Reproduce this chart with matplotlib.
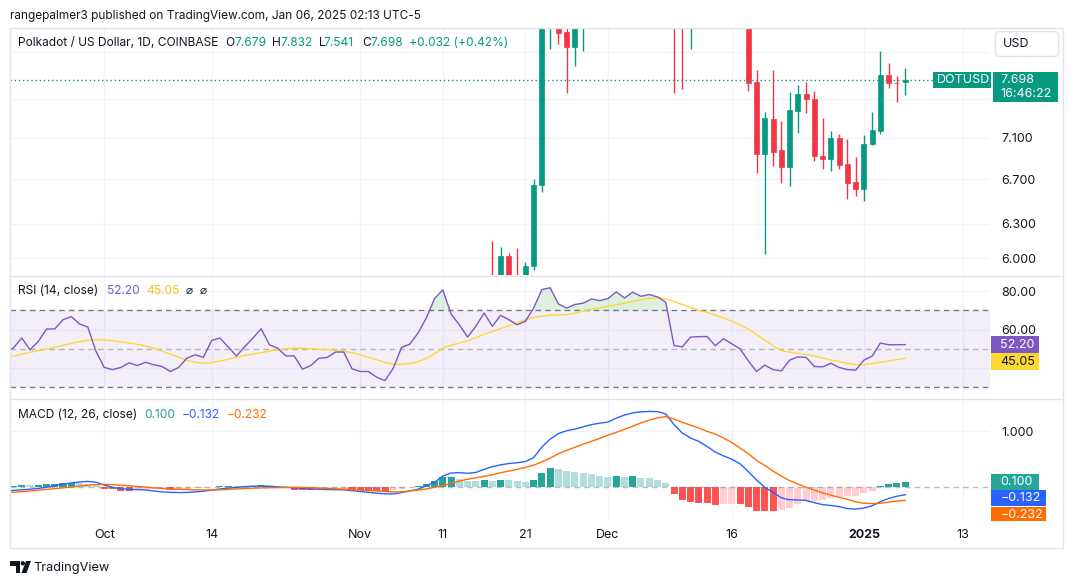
import numpy as np
import pandas as pd
import matplotlib
matplotlib.use("Agg")
import matplotlib.pyplot as plt
from matplotlib.patches import Rectangle, FancyBboxPatch, Polygon, Circle
from matplotlib.ticker import NullLocator

plt.rcParams['font.family'] = ['Inter', 'DejaVu Sans']

W, H = 1073, 584
UP, DOWN = '#089981', '#F23645'
TEXT, GRID, BORDER = '#131722', '#f0f3fa', '#e0e3eb'

# ---- data ----
dates = pd.date_range('2024-09-19', '2025-01-06', freq='D')

rsi = [48.0, 50.5, 55.6, 49.5, 53.8, 60.3, 60.3, 65.1, 66.7, 62.9, 61.3, 48.6,
       40.3, 39.2, 40.3, 42.7, 41.3, 43.0, 41.7, 40.8, 38.2, 40.3, 45.1, 46.9, 45.5, 54.3, 55.6, 51.0,
       46.3, 51.0, 55.6, 60.4, 52.1, 50.3, 46.3, 46.3, 39.4, 41.3, 45.1, 45.5, 48.3, 48.3, 39.6,
       38.2, 38.2, 35.2, 33.5, 39.9, 50.7, 52.4, 58.2, 66.0, 76.1, 80.6, 68.1, 62.5, 56.1, 61.7,
       68.6, 61.7, 67.4, 65.1, 62.5, 64.3, 71.2, 80.8, 81.7, 73.3, 71.2, 73.0, 73.7, 75.9, 75.0,
       76.1, 79.6, 76.4, 79.4, 77.3, 78.2, 77.0, 74.2, 51.7, 51.0, 56.1, 56.3, 56.4, 51.6, 55.2,
       52.6, 50.0, 43.7, 38.2, 41.5, 39.2, 38.5, 44.1, 45.8, 45.5, 40.8, 40.6, 42.5, 40.3, 39.2, 38.9,
       44.1, 46.2, 53.0, 52.1, 52.1, 52.2]

rsi_ma = [45.5, 46.2, 47.2, 48.2, 49.0, 49.8, 50.8, 51.8, 52.8, 53.7, 54.4, 54.7,
          54.6, 54.2, 53.6, 53.0, 52.3, 51.5, 50.3, 48.8, 47.2, 45.6, 44.0, 43.0, 42.5, 42.8, 43.6, 44.6,
          45.6, 46.5, 47.3, 48.0, 48.8, 49.5, 50.0, 50.3, 50.3, 50.0, 49.7, 49.5, 49.2, 48.7, 48.0,
          46.9, 45.6, 44.3, 42.9, 42.0, 41.9, 42.3, 43.3, 45.0, 47.5, 50.3, 51.8, 53.0, 54.2, 55.8,
          57.5, 59.0, 60.5, 62.0, 63.6, 65.0, 66.3, 67.0, 67.5, 67.6, 67.7, 68.5, 69.6, 70.6, 71.3,
          72.1, 72.9, 73.7, 74.6, 75.5, 76.2, 76.5, 75.9, 74.6, 73.0, 71.5, 70.0, 68.9, 67.5, 66.0,
          64.3, 62.5, 60.2, 57.4, 54.5, 51.5, 49.0, 48.3, 47.7, 47.1, 46.2, 45.2, 44.2, 43.3, 42.4, 41.8,
          41.7, 42.4, 43.0, 43.7, 44.4, 45.05]

macd = [-0.07, -0.055, -0.045, -0.035, -0.02, 0.0, 0.03, 0.055, 0.078, 0.095, 0.105, 0.09,
        0.04, 0.0, -0.025, -0.036, -0.042, -0.048, -0.065, -0.082, -0.09, -0.094, -0.092, -0.082,
        -0.07, -0.05, -0.03, -0.015, -0.002, 0.01, 0.02, 0.022, 0.015, 0.008, 0.0, -0.01, -0.02,
        -0.028, -0.035, -0.04, -0.042, -0.045, -0.06,
        -0.075, -0.09, -0.105, -0.117, -0.118, -0.095, -0.065, -0.035, 0.03, 0.09, 0.2, 0.255,
        0.262, 0.25, 0.265, 0.32, 0.37, 0.40, 0.425, 0.438, 0.46, 0.53, 0.72, 0.86, 0.96, 1.01,
        1.04, 1.08, 1.12, 1.145,
        1.165, 1.235, 1.29, 1.33, 1.348, 1.355, 1.352, 1.31, 1.12, 0.97, 0.88, 0.82, 0.73, 0.63,
        0.56, 0.5, 0.42, 0.28, 0.13, 0.0, -0.09, -0.19, -0.222, -0.226, -0.235, -0.275, -0.31,
        -0.325, -0.345, -0.38, -0.39,
        -0.37, -0.33, -0.256, -0.2, -0.16, -0.132]

signal = [-0.095, -0.088, -0.078, -0.065, -0.052, -0.038, -0.024, -0.01, 0.005, 0.022, 0.038, 0.048,
          0.054, 0.048, 0.037, 0.027, 0.015, 0.004, -0.01, -0.022, -0.03, -0.035, -0.04, -0.045,
          -0.048, -0.048, -0.045, -0.038, -0.03, -0.022, -0.016, -0.012, -0.008, -0.005, -0.003,
          0.0, -0.003, -0.008, -0.015, -0.022, -0.028, -0.034, -0.042,
          -0.05, -0.058, -0.065, -0.075, -0.083, -0.08, -0.065, -0.05, -0.03, 0.0, 0.03, 0.07,
          0.11, 0.145, 0.17, 0.195, 0.225, 0.26, 0.29, 0.32, 0.355, 0.395, 0.455, 0.52, 0.6, 0.66,
          0.715, 0.77, 0.82, 0.875,
          0.93, 0.98, 1.035, 1.09, 1.15, 1.2, 1.24, 1.262, 1.22, 1.16, 1.11, 1.06, 1.0, 0.95,
          0.88, 0.8, 0.7, 0.6, 0.48, 0.39, 0.29, 0.2, 0.12, 0.06, 0.0, -0.05, -0.1, -0.14, -0.18,
          -0.215, -0.26,
          -0.285, -0.292, -0.285, -0.265, -0.245, -0.232]

hist = [0.02, 0.024, 0.042, 0.04, 0.044, 0.06, 0.062, 0.071, 0.083, 0.08, 0.054, 0.042,
        -0.03, -0.036, -0.06, -0.06, -0.05, -0.04, -0.035, -0.03, -0.055, -0.04, -0.03, -0.02,
        -0.01, 0.005, 0.024, 0.026, 0.02, 0.024, 0.03, 0.045, 0.035, 0.01, -0.02, -0.04, -0.05,
        -0.055, -0.05, -0.045, -0.04, -0.035, -0.05,
        -0.055, -0.058, -0.06, -0.062, -0.048, -0.024, 0.012, 0.024, 0.06, 0.113, 0.185, 0.19,
        0.149, 0.113, 0.11, 0.131, 0.113, 0.131, 0.125, 0.113, 0.095, 0.131, 0.256, 0.345, 0.327,
        0.292, 0.274, 0.256, 0.238, 0.202,
        0.185, 0.202, 0.185, 0.202, 0.167, 0.164, 0.131, 0.077, -0.113, -0.22, -0.262, -0.28,
        -0.28, -0.315, -0.292, -0.29, -0.30, -0.351, -0.417, -0.417, -0.417, -0.41, -0.363,
        -0.292, -0.25, -0.245, -0.22, -0.185, -0.167, -0.152, -0.148,
        -0.095, -0.06, 0.024, 0.06, 0.077, 0.100]

candle_dates = pd.date_range('2024-11-17', '2025-01-06', freq='D')
opens = [5.80, 5.60, 6.02, 5.75, 5.62, 5.94, 6.65, 8.90, 9.10, 8.23, 8.06, 8.80, 9.00, 9.60,
         9.70, 10.00, 10.60, 10.40, 11.30, 11.00, 11.50, 11.30, 11.00, 8.90, 8.70, 9.40, 9.30,
         9.50, 9.10, 9.30, 9.00, 8.70, 7.68, 6.94, 7.29, 6.98, 6.82, 7.37, 7.55, 7.50, 6.92,
         6.89, 7.10, 6.85, 6.68, 6.61, 7.04, 7.17, 7.75, 7.67, 7.679]
highs = [6.15, 6.10, 6.05, 6.09, 5.97, 6.70, 9.40, 9.60, 9.30, 8.50, 9.00, 9.20, 9.80, 9.90,
         10.20, 10.80, 11.00, 11.50, 11.60, 11.80, 11.70, 11.50, 11.10, 9.40, 9.50, 9.70, 9.60,
         9.70, 9.40, 9.50, 9.20, 8.80, 7.81, 7.36, 7.81, 7.27, 7.57, 7.64, 7.68, 7.58, 7.30,
         7.17, 7.14, 7.09, 6.91, 7.13, 7.36, 8.02, 7.88, 7.74, 7.832]
lows = [5.55, 5.50, 5.65, 5.55, 5.55, 5.90, 6.58, 8.04, 8.10, 7.56, 7.85, 8.02, 8.90, 9.30,
        9.50, 9.70, 9.90, 10.20, 10.60, 10.80, 11.10, 10.90, 7.56, 7.60, 8.04, 9.10, 9.00,
        8.90, 8.80, 8.80, 8.50, 7.58, 6.76, 6.04, 6.83, 6.67, 6.64, 7.15, 7.35, 6.87, 6.80,
        6.78, 6.80, 6.52, 6.55, 6.50, 7.03, 7.14, 7.61, 7.46, 7.541]
closes = [5.60, 6.02, 5.75, 5.62, 5.94, 6.65, 9.00, 9.20, 8.22, 8.06, 8.80, 9.00, 9.60, 9.70,
          10.00, 10.60, 10.40, 11.30, 11.00, 11.50, 11.30, 11.00, 8.90, 8.70, 9.40, 9.30, 9.50,
          9.10, 9.30, 9.00, 8.70, 7.67, 6.94, 7.30, 6.96, 6.82, 7.38, 7.55, 7.50, 6.92, 6.89,
          7.10, 6.84, 6.67, 6.61, 7.04, 7.18, 7.75, 7.67, 7.666, 7.698]

tick_dates = pd.to_datetime(['2024-10-01', '2024-10-14', '2024-11-01', '2024-11-11', '2024-11-21',
                             '2024-12-01', '2024-12-16', '2025-01-01', '2025-01-13'])
tick_labels = ['Oct', '14', 'Nov', '11', '21', 'Dec', '16', '2025', '13']
price_ticks = [6.0, 6.3, 6.7, 7.1, 7.5, 8.0]
price_labels = ['6.000', '6.300', '6.700', '7.100', '', '']
rsi_ticks = [40, 60, 80]
rsi_labels = ['', '60.00', '80.00']  # 40.00 sits under the MA value box

# ---- figure ----
fig = plt.figure(figsize=(W / 100, H / 100), dpi=100)
fig.patch.set_facecolor('white')


def px_axes(x0, y0, x1, y1, **kw):
    return fig.add_axes([x0 / W, 1 - y1 / H, (x1 - x0) / W, (y1 - y0) / H], **kw)


ax_p = px_axes(10, 27.5, 990, 275)
ax_r = px_axes(10, 276, 990, 398.5)
ax_m = px_axes(10, 399, 990, 521)

t0 = pd.Timestamp('2024-10-01')
x_left, x_right = t0 - pd.Timedelta(days=11.42), t0 + pd.Timedelta(days=107.27)

for ax in (ax_p, ax_r, ax_m):
    ax.set_xlim(x_left, x_right)
    ax.set_xticks(tick_dates)
    ax.grid(True, color=GRID, lw=1)
    ax.set_axisbelow(True)
    for s in ax.spines.values():
        s.set_visible(False)
    ax.yaxis.tick_right()
    ax.tick_params(length=0, labelsize=9, labelcolor=TEXT, pad=8)
    ax.tick_params(axis='x', labelbottom=False)

# price panel
ax_p.set_yscale('log')
ax_p.set_ylim(5.863, 8.283)
ax_p.set_yticks(price_ticks, labels=price_labels)
ax_p.yaxis.set_minor_locator(NullLocator())
ccol = [UP if c >= o else DOWN for o, c in zip(opens, closes)]
ax_p.vlines(candle_dates, lows, highs, colors=ccol, lw=1)
ax_p.bar(candle_dates, np.array(closes) - np.array(opens), bottom=opens, width=0.6,
         color=ccol, edgecolor=ccol, lw=0.5)
ax_p.axhline(closes[-1], color=UP, lw=1, ls=(0, (1, 2)))

# RSI panel
rsi_arr = np.array(rsi)
ax_r.set_ylim(24.18, 87.82)
ax_r.set_yticks(rsi_ticks, labels=rsi_labels)
ax_r.axhspan(30, 70, color='#7e57c2', alpha=0.09, lw=0)
for lvl, a in ((70, 1), (50, 0.5), (30, 1)):
    ax_r.axhline(lvl, color='#787b86', lw=1, ls=(0, (4, 3)), alpha=a)
ax_r.fill_between(dates, 70, rsi_arr, where=rsi_arr > 70, interpolate=True,
                  color='#4caf50', alpha=0.18, lw=0)
ax_r.plot(dates, rsi_ma, color='#FDD835', lw=1)
ax_r.plot(dates, rsi_arr, color='#7E57C2', lw=1)

# MACD panel
ax_m.set_ylim(-0.602, 1.577)
ax_m.set_yticks([1.0], labels=['1.000'])
ax_m.axhline(0, color='#787b86', lw=1, ls=(0, (4, 3)), alpha=0.5)
hcol = []
for i, h in enumerate(hist):
    prev = hist[i - 1] if i else h - 1
    if h >= 0:
        hcol.append('#26a69a' if h > prev else '#b2dfdb')
    else:
        hcol.append('#ffcdd2' if h > prev else '#ff5252')
ax_m.bar(dates, hist, width=0.85, color=hcol, lw=0)
ax_m.plot(dates, macd, color='#2962ff', lw=1)
ax_m.plot(dates, signal, color='#ff6d00', lw=1)
ax_m.tick_params(axis='x', labelbottom=True, pad=6)
ax_m.set_xticklabels(tick_labels)
for lab in ax_m.get_xticklabels():
    if lab.get_text() == '2025':
        lab.set_fontweight('bold')


def ypx(ax, v):
    return H - ax.transData.transform((0, v))[1]


# ---- overlay: frame, legends, value boxes ----
ov = fig.add_axes([0, 0, 1, 1], zorder=10)
ov.set_xlim(0, W)
ov.set_ylim(H, 0)
ov.axis('off')

ov.add_patch(Rectangle((9.5, 27.5), 1053, 520.5, fill=False, ec=BORDER, lw=1))
for yy in (275.5, 398.5):
    ov.plot([9.5, 1062.5], [yy, yy], color=BORDER, lw=1)

ov.text(10, 16, 'rangepalmer3 published on TradingView.com, Jan 06, 2025 02:13 UTC-5',
        fontsize=8.5, color=TEXT, va='center')

# symbol legend
y0 = 43
ov.text(18, y0, 'Polkadot / US Dollar, 1D, COINBASE', fontsize=8.6, color=TEXT, va='center')
chg = closes[-1] - closes[-2]
parts = [(225.6, 'O', TEXT), (234, f'{opens[-1]:.3f}', UP), (272, 'H', TEXT),
         (280.6, f'{highs[-1]:.3f}', UP), (318.5, 'L', TEXT), (323.7, f'{lows[-1]:.3f}', UP),
         (362.3, 'C', TEXT), (370, f'{closes[-1]:.3f}', UP),
         (409, f'+{chg:.3f} (+{chg / closes[-2] * 100:.2f}%)', UP)]
for x, s, c in parts:
    ov.text(x, y0, s, fontsize=8.6, color=c, va='center')

# RSI legend
ov.text(18, 291, 'RSI (14, close)', fontsize=8.6, color=TEXT, va='center')
ov.text(106.7, 291, f'{rsi[-1]:.2f}', fontsize=8.6, color='#7E57C2', va='center')
ov.text(146.3, 291, f'{rsi_ma[-1]:.2f}', fontsize=8.6, color='#f2c31b', va='center')
ov.text(186, 291, '\u2300', fontsize=8.5, color=TEXT, va='center')
ov.text(200, 291, '\u2300', fontsize=8.5, color=TEXT, va='center')

# MACD legend
ov.text(18, 414.7, 'MACD (12, 26, close)', fontsize=8.6, color=TEXT, va='center')
ov.text(144, 414.7, f'{hist[-1]:.3f}', fontsize=8.6, color='#26a69a', va='center')
ov.text(181.5, 414.7, f'\u2212{abs(macd[-1]):.3f}', fontsize=8.6, color='#2962ff', va='center')
ov.text(226.6, 414.7, f'\u2212{abs(signal[-1]):.3f}', fontsize=8.6, color='#ff6d00', va='center')


def value_box(ax, x0, yc, w, h, s, fc, tc):
    ax.add_patch(Rectangle((x0, yc - h / 2), w, h, fc=fc, ec='none', zorder=5))
    ax.text(x0 + 9, yc, s, color=tc, fontsize=9, va='center', ha='left', zorder=6)


# price scale boxes
yp = ypx(ax_p, closes[-1])
ov.add_patch(Rectangle((932.5, yp - 8), 58.5, 16, fc=UP, ec='none'))
ov.text(936.5, yp, 'DOTUSD', color='white', fontsize=9, va='center')
ov.add_patch(Rectangle((992.7, yp - 8), 65, 30, fc=UP, ec='none'))
ov.text(1000, yp, f'{closes[-1]:.3f}', color='white', fontsize=9, va='center')
ov.text(1000, yp + 14.5, '16:46:22', color='white', fontsize=9, va='center')
ov.add_patch(FancyBboxPatch((995.5, 31.5), 63, 25, boxstyle='round,pad=0,rounding_size=4',
                            fc='white', ec=BORDER, lw=1))
ov.text(1003, 44, 'USD', color=TEXT, fontsize=9, va='center')

# RSI scale boxes
yr1 = ypx(ax_r, rsi[-1])
yr2 = max(ypx(ax_r, rsi_ma[-1]), yr1 + 17)
value_box(ov, 991.4, yr1, 47.6, 16.5, f'{rsi[-1]:.2f}', '#7E57C2', 'white')
value_box(ov, 991.4, yr2, 47.6, 16.5, f'{rsi_ma[-1]:.2f}', '#FDD835', TEXT)

# MACD scale boxes, clipped to the panel
ax_ms = px_axes(990, 399, 1063, 521, zorder=11)
ax_ms.set_xlim(990, 1063)
ax_ms.set_ylim(521, 399)
ax_ms.axis('off')
ym1 = ypx(ax_m, hist[-1])
ym2 = max(ypx(ax_m, macd[-1]), ym1 + 16.5)
ym3 = max(ypx(ax_m, signal[-1]), ym2 + 16.5)
value_box(ax_ms, 991.4, ym1, 47.6, 16, f'{hist[-1]:.3f}', '#26a69a', 'white')
value_box(ax_ms, 991.4, ym2, 55, 16, f'\u2212{abs(macd[-1]):.3f}', '#2962ff', 'white')
value_box(ax_ms, 991.4, ym3, 55, 16, f'\u2212{abs(signal[-1]):.3f}', '#ff6d00', 'white')

# TradingView logo + name
ov.add_patch(Polygon([(10, 561), (20, 561), (20, 573), (15.5, 573), (15.5, 565.5), (10, 565.5)],
                     closed=True, fc=TEXT, ec='none'))
ov.add_patch(Circle((22.8, 563.3), 2.2, fc=TEXT, ec='none'))
ov.add_patch(Polygon([(26, 561), (31, 561), (26.5, 573), (21.5, 573)], closed=True, fc=TEXT, ec='none'))
ov.text(33.4, 567.5, 'TradingView', fontsize=9.2, color=TEXT, va='center')

fig.savefig('out.png', dpi=100, facecolor='white')
